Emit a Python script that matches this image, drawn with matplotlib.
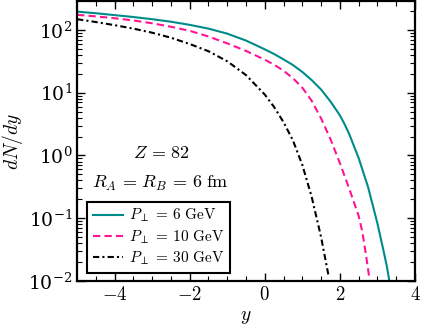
import numpy as np
import matplotlib
matplotlib.use("Agg")
import matplotlib.pyplot as plt
from matplotlib.ticker import MultipleLocator, FuncFormatter, LogLocator, LogFormatterMathtext

plt.rcParams['mathtext.fontset'] = 'cm'
plt.rcParams['font.family'] = 'serif'
plt.rcParams['font.serif'] = ['DejaVu Serif']

# rapidity y and log10(dN/dy)
y_p6 = [-5, -4.5, -4, -3.5, -3, -2.5, -2, -1.5, -1, -0.5, 0, 0.25, 0.5, 0.75, 1.0, 1.25,
        1.5, 1.75, 2.0, 2.125, 2.25, 2.5, 2.75, 3.0, 3.15, 3.25, 3.32]
lg_p6 = [2.29, 2.265, 2.235, 2.205, 2.17, 2.13, 2.08, 2.02, 1.94, 1.83, 1.69, 1.615, 1.53,
         1.44, 1.33, 1.20, 1.05, 0.86, 0.64, 0.50, 0.34, -0.04, -0.50, -1.08, -1.48, -1.76, -2.0]

y_p10 = [-5, -4.5, -4, -3.5, -3, -2.5, -2, -1.5, -1, -0.5, 0, 0.25, 0.5, 0.75, 1.0, 1.25,
         1.5, 1.75, 2.0, 2.25, 2.5, 2.6, 2.7, 2.79]
lg_p10 = [2.24, 2.215, 2.185, 2.15, 2.105, 2.05, 1.985, 1.895, 1.785, 1.665, 1.525, 1.445,
          1.35, 1.23, 1.08, 0.87, 0.59, 0.26, -0.12, -0.53, -0.96, -1.22, -1.60, -1.97]

y_p30 = [-5, -4.5, -4, -3.5, -3, -2.5, -2, -1.5, -1, -0.5, 0, 0.25, 0.5, 0.75, 1.0, 1.25,
         1.5, 1.7]
lg_p30 = [2.17, 2.125, 2.075, 2.02, 1.955, 1.875, 1.775, 1.66, 1.50, 1.28, 0.97, 0.77,
          0.53, 0.24, -0.15, -0.66, -1.30, -1.92]

labels = [r'$P_{\perp}\,=\,6\ \mathrm{GeV}$', r'$P_{\perp}\,=\,10\ \mathrm{GeV}$',
          r'$P_{\perp}\,=\,30\ \mathrm{GeV}$']

fig = plt.figure(figsize=(4.26, 3.33), dpi=100)
ax = fig.add_axes([0.181, 0.156, 0.793, 0.841])

ax.plot(y_p6, 10 ** np.array(lg_p6), color='#008b8b', lw=1.5, label=labels[0])
ax.plot(y_p10, 10 ** np.array(lg_p10), color='#ff1493', lw=1.5, dashes=(3.5, 2.0), label=labels[1])
ax.plot(y_p30, 10 ** np.array(lg_p30), color='black', lw=1.5, dashes=(3.0, 1.5, 1.0, 1.5), label=labels[2])

ax.set_yscale('log')
ax.set_xlim(-5, 4)
ax.set_ylim(1e-2, 10 ** 2.46)

ax.xaxis.set_major_locator(MultipleLocator(2))
ax.xaxis.set_minor_locator(MultipleLocator(0.5))
ax.xaxis.set_major_formatter(FuncFormatter(lambda v, p: r'$%g$' % v))
ax.yaxis.set_major_locator(LogLocator(base=10, numticks=10))
ax.yaxis.set_minor_locator(LogLocator(base=10, subs=np.arange(2, 10), numticks=10))
ax.yaxis.set_major_formatter(LogFormatterMathtext())

ax.tick_params(which='both', direction='in', top=True, right=True, labelsize=13.5)
ax.tick_params(which='major', length=6, width=1)
ax.tick_params(which='minor', length=3.5, width=0.8)
for s in ax.spines.values():
    s.set_linewidth(1.6)

ax.set_xlabel(r'$y$', fontsize=14, labelpad=3)
ax.set_ylabel(r'$dN/dy$', fontsize=14, labelpad=2)

ax.text(0.25, 0.457, r'$Z\,=\,82$', transform=ax.transAxes, ha='center', va='center', fontsize=13)
ax.text(0.245, 0.35, r'$R_A\,=\,R_B\,=\,6\ \mathrm{fm}$', transform=ax.transAxes,
        ha='center', va='center', fontsize=13)

leg = ax.legend(loc='lower left', bbox_to_anchor=(0.03, 0.03), borderaxespad=0, fontsize=11,
                fancybox=False, framealpha=1, edgecolor='black', handlelength=2.0,
                handletextpad=0.4, labelspacing=0.25, borderpad=0.35)
leg.get_frame().set_linewidth(1.5)

fig.savefig('out.png', dpi=100)
